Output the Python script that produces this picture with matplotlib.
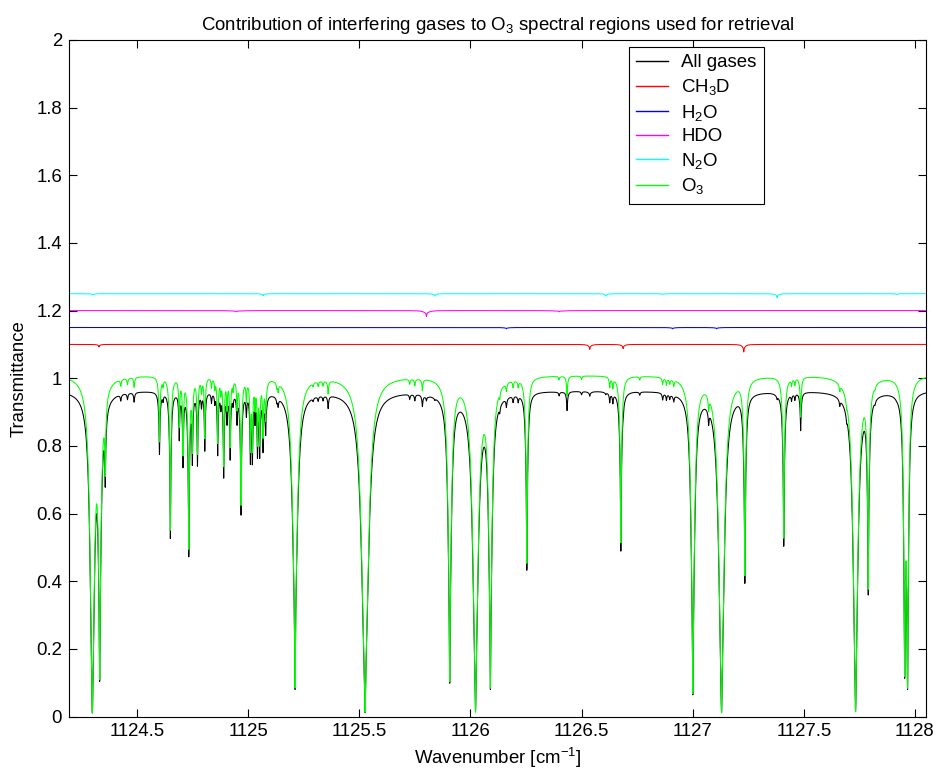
import numpy as np
import matplotlib
matplotlib.use('Agg')
import matplotlib.pyplot as plt
from matplotlib.ticker import FixedLocator, FuncFormatter

# ---------------- data ----------------
wn_min, wn_max = 1124.194, 1128.05

# O3 absorption lines: centre [cm-1], line optical depth, Lorentz half width [cm-1]
o3_center = [1124.299, 1124.332, 1124.357, 1124.427, 1124.457, 1124.487,
             1124.601, 1124.617, 1124.650, 1124.690, 1124.707, 1124.733,
             1124.749, 1124.772, 1124.790, 1124.805, 1124.835, 1124.850,
             1124.863, 1124.877, 1124.890, 1124.905, 1124.919, 1124.932,
             1124.950, 1124.968, 1124.992, 1125.010, 1125.019, 1125.031,
             1125.042, 1125.052, 1125.067, 1125.079, 1125.129, 1125.135,
             1125.211, 1125.292, 1125.315, 1125.337, 1125.360, 1125.526,
             1125.727, 1125.750, 1125.784, 1125.907, 1126.023, 1126.090,
             1126.132, 1126.162, 1126.192, 1126.215, 1126.254, 1126.399,
             1126.435, 1126.500, 1126.627, 1126.641, 1126.677, 1126.762,
             1126.865, 1126.882, 1126.897, 1126.915, 1127.001, 1127.072,
             1127.130, 1127.235, 1127.410, 1127.445, 1127.460, 1127.486,
             1127.662, 1127.693, 1127.733, 1127.790, 1127.820, 1127.954,
             1127.967]
o3_tau = [1.80, 0.85, 0.10, 0.008, 0.008, 0.012,
          0.085, 0.008, 0.24, 0.06, 0.10, 0.28,
          0.09, 0.10, 0.016, 0.08, 0.012, 0.012,
          0.085, 0.016, 0.12, 0.035, 0.09, 0.012,
          0.035, 0.19, 0.025, 0.09, 0.09, 0.03,
          0.08, 0.08, 0.07, 0.05, 0.006, 0.010,
          1.00, 0.004, 0.006, 0.006, 0.016, 1.77,
          0.006, 0.008, 0.014, 0.92, 1.70, 0.98,
          0.008, 0.010, 0.008, 0.008, 0.32, 0.004,
          0.024, 0.004, 0.012, 0.012, 0.27, 0.004,
          0.008, 0.008, 0.006, 0.008, 1.08, 0.018,
          1.80, 0.35, 0.26, 0.008, 0.008, 0.05,
          0.008, 0.008, 1.70, 0.38, 0.004, 0.80,
          0.95]
o3_width = [0.008, 0.007, 0.005, 0.005, 0.005, 0.005,
            0.005, 0.004, 0.005, 0.004, 0.004, 0.005,
            0.004, 0.004, 0.004, 0.004, 0.004, 0.004,
            0.004, 0.004, 0.004, 0.004, 0.004, 0.004,
            0.004, 0.005, 0.004, 0.004, 0.004, 0.004,
            0.004, 0.004, 0.004, 0.006, 0.005, 0.005,
            0.011, 0.005, 0.005, 0.005, 0.005, 0.0128,
            0.005, 0.005, 0.005, 0.008, 0.010, 0.008,
            0.005, 0.005, 0.005, 0.005, 0.006, 0.005,
            0.005, 0.005, 0.005, 0.005, 0.006, 0.005,
            0.005, 0.005, 0.005, 0.005, 0.008, 0.005,
            0.010, 0.006, 0.006, 0.005, 0.005, 0.005,
            0.005, 0.005, 0.009, 0.006, 0.005, 0.005,
            0.005]

ch3d_center = [1124.329, 1126.537, 1126.687, 1127.230]
ch3d_tau = [0.003, 0.006, 0.005, 0.009]
ch3d_width = [0.008, 0.010, 0.010, 0.010]

h2o_center = [1126.162, 1126.910, 1127.108]
h2o_tau = [0.0015, 0.0015, 0.0015]
h2o_width = [0.015, 0.015, 0.015]

hdo_center = [1124.947, 1125.802, 1126.400]
hdo_tau = [0.0015, 0.007, 0.0015]
hdo_width = [0.03, 0.015, 0.03]

n2o_center = [1124.302, 1125.067, 1125.840, 1126.609, 1126.867, 1127.380, 1127.918]
n2o_tau = [0.0015, 0.0025, 0.003, 0.003, 0.001, 0.005, 0.001]
n2o_width = [0.010, 0.010, 0.010, 0.010, 0.010, 0.010, 0.010]

o3_baseline = 1.01              # O3 curve slightly above 1 between lines
other_absorbers = 0.955         # broadband factor in the "All gases" curve
offsets = {'CH3D': 0.10, 'H2O': 0.15, 'HDO': 0.20, 'N2O': 0.25}

# ---------------- spectra ----------------
nu = np.linspace(wn_min, wn_max, 8000)


def transmittance(centers, taus, widths, core_ratio=1.5, core_width=0.0015):
    tau = np.zeros_like(nu)
    for c, t, w in zip(centers, taus, widths):
        d2 = (nu - c) ** 2
        tau += t * w ** 2 / (d2 + w ** 2)
        tau += core_ratio * t * core_width ** 2 / (d2 + core_width ** 2)
    return np.exp(-tau)


t_o3 = o3_baseline * transmittance(o3_center, o3_tau, o3_width)
t_ch3d = transmittance(ch3d_center, ch3d_tau, ch3d_width)
t_h2o = transmittance(h2o_center, h2o_tau, h2o_width)
t_hdo = transmittance(hdo_center, hdo_tau, hdo_width)
t_n2o = transmittance(n2o_center, n2o_tau, n2o_width)
t_all = other_absorbers * t_o3 * t_ch3d * t_h2o * t_hdo * t_n2o

# ---------------- plot ----------------
plt.rcParams['font.family'] = ['Liberation Sans', 'DejaVu Sans']
plt.rcParams['mathtext.fontset'] = 'custom'
plt.rcParams['mathtext.rm'] = 'Liberation Sans'
plt.rcParams['mathtext.it'] = 'Liberation Sans:italic'
plt.rcParams['mathtext.bf'] = 'Liberation Sans:bold'
FS = 13.4

fig = plt.figure(figsize=(9.4, 7.77), dpi=100)
ax = fig.add_axes([69 / 940, 1 - 716.5 / 777, (926 - 69) / 940, (716.5 - 40) / 777])

lw = 0.75
ax.plot(nu, t_all, color='black', lw=lw, label='All gases')
ax.plot(nu, t_ch3d + offsets['CH3D'], color='#ff0000', lw=lw, label='CH$_3$D')
ax.plot(nu, t_h2o + offsets['H2O'], color='#0000ff', lw=lw, label='H$_2$O')
ax.plot(nu, t_hdo + offsets['HDO'], color='#ff00ff', lw=lw, label='HDO')
ax.plot(nu, t_n2o + offsets['N2O'], color='#00ffff', lw=lw, label='N$_2$O')
ax.plot(nu, t_o3, color='#00ff00', lw=lw, label='O$_3$')

ax.set_xlim(wn_min, wn_max)
ax.set_ylim(0, 2)
xt = [1124.5, 1125, 1125.5, 1126, 1126.5, 1127, 1127.5, 1128]
yt = [0, 0.2, 0.4, 0.6, 0.8, 1, 1.2, 1.4, 1.6, 1.8, 2]
ax.xaxis.set_major_locator(FixedLocator(xt))
ax.yaxis.set_major_locator(FixedLocator(yt))
ax.xaxis.set_major_formatter(FuncFormatter(lambda v, p: '%g' % v))
ax.yaxis.set_major_formatter(FuncFormatter(lambda v, p: '%g' % v))
ax.tick_params(direction='in', top=True, right=True, length=5.5, width=0.8,
               labelsize=FS, pad=5)
for s in ax.spines.values():
    s.set_linewidth(0.8)

ax.set_title('Contribution of interfering gases to O$_3$ spectral regions used for retrieval',
             fontsize=FS, pad=7)
ax.set_xlabel('Wavenumber [cm$^{-1}$]', fontsize=FS, labelpad=4)
ax.set_ylabel('Transmittance', fontsize=FS, labelpad=6)

leg = ax.legend(loc='upper left', bbox_to_anchor=(0.653, 0.9897), borderaxespad=0,
                fontsize=FS, frameon=True, fancybox=False, framealpha=1,
                edgecolor='black', handlelength=1.72, handletextpad=0.7,
                labelspacing=0.3, borderpad=0.4)
leg.get_frame().set_linewidth(0.8)
for h in leg.get_lines():
    h.set_linewidth(1.0)

fig.savefig('out.png', dpi=100)
